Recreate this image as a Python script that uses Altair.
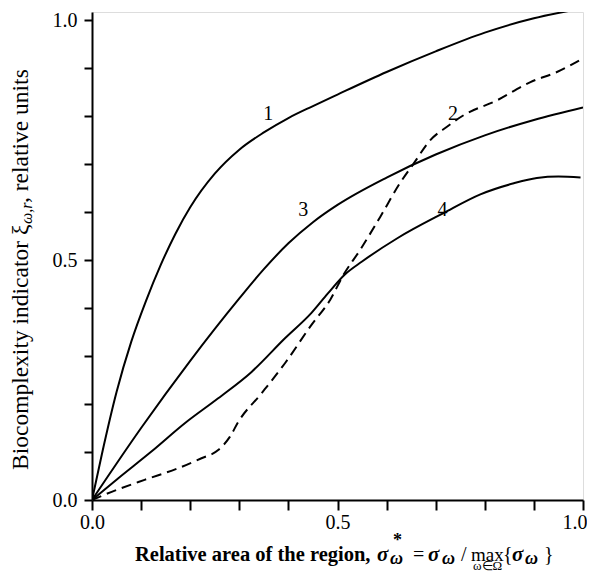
import altair as alt
import pandas as pd

# ---- data ----
c1_x = [0, 0.02, 0.05, 0.08, 0.11, 0.14, 0.17, 0.2, 0.25, 0.3, 0.35, 0.4, 0.45, 0.5, 0.6, 0.7, 0.8, 0.9, 0.97]
c1_y = [0, 0.095, 0.225, 0.33, 0.415, 0.49, 0.555, 0.61, 0.68, 0.73, 0.766, 0.796, 0.821, 0.845, 0.892, 0.935, 0.974, 1.004, 1.019]

c2_x = [0, 0.04, 0.107, 0.175, 0.223, 0.257, 0.281, 0.298, 0.345, 0.393, 0.447, 0.485, 0.512, 0.546, 0.587, 0.627, 0.655, 0.689, 0.723, 0.757, 0.825, 0.893, 0.947, 0.994]
c2_y = [0, 0.017, 0.042, 0.066, 0.087, 0.104, 0.132, 0.163, 0.222, 0.285, 0.365, 0.417, 0.469, 0.521, 0.590, 0.660, 0.701, 0.75, 0.778, 0.802, 0.833, 0.871, 0.892, 0.917]

c3_x = [0, 0.1, 0.2, 0.3, 0.35, 0.4, 0.45, 0.5, 0.6, 0.7, 0.8, 0.9, 1.0]
c3_y = [0, 0.15, 0.29, 0.42, 0.481, 0.535, 0.579, 0.615, 0.672, 0.72, 0.76, 0.792, 0.818]

c4_x = [0, 0.053, 0.121, 0.189, 0.257, 0.325, 0.393, 0.447, 0.48, 0.515, 0.55, 0.621, 0.716, 0.791, 0.859, 0.906, 0.95, 0.995]
c4_y = [0, 0.045, 0.101, 0.160, 0.212, 0.267, 0.337, 0.39, 0.43, 0.47, 0.497, 0.545, 0.598, 0.637, 0.66, 0.671, 0.674, 0.672]

curve_names = ["1", "2", "3", "4"]
label_x = [0.359, 0.735, 0.430, 0.714]
label_y = [0.805, 0.805, 0.604, 0.604]

x_ticks = [0.0, 0.1, 0.2, 0.3, 0.4, 0.5, 0.6, 0.7, 0.8, 0.9, 1.0]
y_ticks = [0.0, 0.1, 0.2, 0.3, 0.4, 0.5, 0.6, 0.7, 0.8, 0.9, 1.0]

y_title_parts = ["Biocomplexity indicator \u03be", "\u03c9,r", " , relative units"]
x_title_parts = ["Relative area of the region,", "\u03c3", "*", "\u03c9", "=", "\u03c3", "\u03c9",
                 "/", "max", "{", "\u03c3", "\u03c9", "}", "\u03c9\u2208\u03a9"]

FONT = "Liberation Serif"

rows = []
for name, xs, ys in zip(curve_names, [c1_x, c2_x, c3_x, c4_x], [c1_y, c2_y, c3_y, c4_y]):
    for i, (a, b) in enumerate(zip(xs, ys)):
        rows.append({"x": a, "y": b, "curve": name, "order": i})
df = pd.DataFrame(rows)
lbl = pd.DataFrame({"x": label_x, "y": label_y, "t": curve_names})

xscale = alt.Scale(domain=[0, 1], nice=False, zero=False)
yscale = alt.Scale(domain=[0, 1.017], nice=False, zero=False)

lab_expr = ("abs(datum.value) < 0.001 ? '0.0' : abs(datum.value - 0.5) < 0.001 ? '0.5' : "
            "abs(datum.value - 1) < 0.001 ? '1.0' : ''")

xaxis = alt.Axis(values=x_ticks, labelExpr=lab_expr, title=None, grid=False,
                 tickSize=10, tickWidth=2, tickColor="black", domainColor="black", domainWidth=2,
                 labelFont=FONT, labelFontSize=20, labelColor="black", labelPadding=2,
                 labelOverlap=False, labelFlush=False,
                 labelAlign={"condition": {"test": "datum.value > 0.99", "value": "right"}, "value": "center"},
                 labelOffset={"condition": {"test": "datum.value > 0.99", "value": 4}, "value": 0})
yaxis = alt.Axis(values=y_ticks, labelExpr=lab_expr, title=None, grid=False,
                 tickSize=8, tickWidth=2, tickColor="black", domainColor="black", domainWidth=2,
                 labelFont=FONT, labelFontSize=20, labelColor="black", labelPadding=7,
                 labelOverlap=False, labelFlush=False)

base = alt.Chart(df).encode(
    x=alt.X("x:Q", scale=xscale, axis=xaxis),
    y=alt.Y("y:Q", scale=yscale, axis=yaxis),
    detail="curve:N",
    order="order:Q",
)
solid = base.transform_filter(alt.datum.curve != "2").mark_line(
    color="black", strokeWidth=2, interpolate="monotone", clip=True)
dashed = base.transform_filter(alt.datum.curve == "2").mark_line(
    color="black", strokeWidth=2, interpolate="monotone", strokeDash=[10, 6], clip=True)

labels = alt.Chart(lbl).mark_text(font=FONT, fontSize=20, color="black").encode(
    x=alt.X("x:Q", scale=xscale), y=alt.Y("y:Q", scale=yscale), text="t:N")


def txt(s, x, y, size, weight="normal", style="normal", angle=0, align="left"):
    return alt.Chart(pd.DataFrame({"t": [s]})).mark_text(
        font=FONT, fontSize=size, fontWeight=weight, fontStyle=style, color="black",
        angle=angle, align=align, baseline="alphabetic"
    ).encode(text="t:N", x=alt.value(x), y=alt.value(y))


# y title pieces (rotated, reading upward)
yt = [
    txt(y_title_parts[0], -64.5, 458, 23.5, angle=270),
    txt(y_title_parts[1], -60.5, 212, 16, style="italic", angle=270),
    txt(y_title_parts[2], -64.5, 191, 23.5, angle=270),
]
# x title pieces
B = 549
xt = [
    txt(x_title_parts[0], 43, B, 20.5, weight="bold"),
    txt(x_title_parts[1], 285, B, 21, weight="bold", style="italic"),
    txt(x_title_parts[2], 301, B - 15, 18, weight="bold"),
    txt(x_title_parts[3], 298, B + 3, 18, weight="bold", style="italic"),
    txt(x_title_parts[4], 321, B, 20),
    txt(x_title_parts[5], 336, B, 21, weight="bold", style="italic"),
    txt(x_title_parts[6], 350, B + 3, 18, weight="bold", style="italic"),
    txt(x_title_parts[7], 369, B, 20),
    txt(x_title_parts[8], 379, B, 19),
    txt(x_title_parts[9], 411, B, 20),
    txt(x_title_parts[10], 420, B, 21, weight="bold", style="italic"),
    txt(x_title_parts[11], 433, B + 3, 18, weight="bold", style="italic"),
    txt(x_title_parts[12], 452, B, 20),
    txt(x_title_parts[13], 381, B + 9, 13),
]

chart = alt.layer(solid, dashed, labels, *yt, *xt).properties(
    width=491, height=488,
    autosize=alt.AutoSizeParams(type="none"),
    padding={"left": 84, "top": 4, "right": 4, "bottom": 74},
).configure_view(stroke="black", strokeWidth=1.5).configure(background="white")

chart.save("out.html", embed_options={"renderer": "svg", "actions": False})
